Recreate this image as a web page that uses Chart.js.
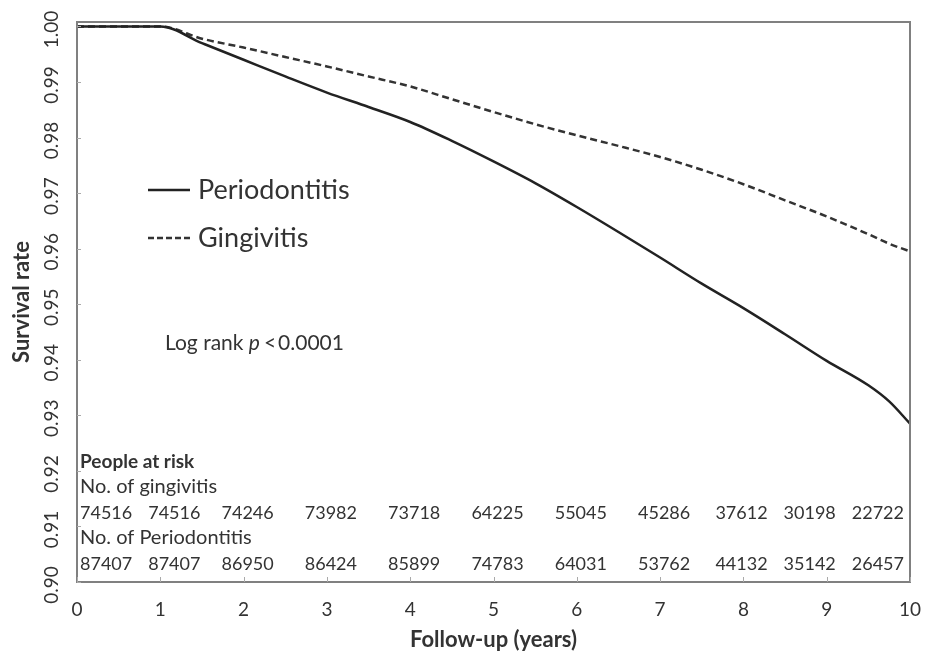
<!DOCTYPE html>
<html>
<head>
<meta charset="utf-8">
<script src="https://cdn.jsdelivr.net/npm/chart.js@4/dist/chart.umd.min.js"></script>
<style>
  body { margin: 0; background: #fff; }
  #wrap { width: 925px; height: 655px; position: relative; }
</style>
</head>
<body>
<div id="wrap"><canvas id="mychart"></canvas></div>
<script>
// survival curves
const years = [0, 1, 1.5, 2, 2.5, 3, 3.5, 4, 4.5, 5, 5.5, 6, 6.5, 7, 7.5, 8, 8.5, 9, 9.5, 9.75, 10];
const periodontitis = [1, 1, 0.9970, 0.9940, 0.9910, 0.9881, 0.9855, 0.9828, 0.9794, 0.9757, 0.9718, 0.9675, 0.9630, 0.9584, 0.9537, 0.9493, 0.9446, 0.9398, 0.9354, 0.9325, 0.9285];
const gingivitis = [1, 1, 0.9978, 0.9962, 0.9945, 0.9928, 0.9910, 0.9892, 0.9869, 0.9846, 0.9824, 0.9804, 0.9785, 0.9765, 0.9742, 0.9716, 0.9687, 0.9658, 0.9626, 0.9609, 0.9595];

// people at risk table
const riskYears = [0, 1, 2, 3, 4, 5, 6, 7, 8, 9, 10];
const atRiskGingivitis = [74516, 74516, 74246, 73982, 73718, 64225, 55045, 45286, 37612, 30198, 22722];
const atRiskPeriodontitis = [87407, 87407, 86950, 86424, 85899, 74783, 64031, 53762, 44132, 35142, 26457];

const yTickLabels = ['0.90', '0.91', '0.92', '0.93', '0.94', '0.95', '0.96', '0.97', '0.98', '0.99', '1.00'];
const xTickLabels = ['0', '1', '2', '3', '4', '5', '6', '7', '8', '9', '10'];

const textColor = '#333';
const fontFam = 'Lato, "Open Sans", sans-serif';

const toPoints = (vals) => years.map((x, i) => ({ x: x, y: vals[i] }));

const data = {
    datasets: [
        {
            label: 'Periodontitis',
            data: toPoints(periodontitis),
            borderColor: '#222',
            borderWidth: 2.5,
            pointRadius: 0,
            cubicInterpolationMode: 'monotone',
        },
        {
            label: 'Gingivitis',
            data: toPoints(gingivitis),
            borderColor: '#333',
            borderWidth: 2.5,
            borderDash: [7, 4],
            pointRadius: 0,
            cubicInterpolationMode: 'monotone',
        }
    ]
};

// draws frame, ticks, labels, legend, risk table
const decor = {
    id: 'decor',
    afterDraw(chart) {
        const ctx = chart.ctx;
        const area = chart.chartArea;
        const xs = chart.scales.x;
        const ys = chart.scales.y;
        ctx.save();

        // frame
        ctx.strokeStyle = '#808080';
        ctx.lineWidth = 2;
        ctx.setLineDash([]);
        ctx.strokeRect(area.left, area.top, area.right - area.left, area.bottom - area.top);

        // tick marks inside
        ctx.strokeStyle = '#aaa';
        ctx.lineWidth = 1;
        yTickLabels.forEach(l => {
            const y = Math.round(ys.getPixelForValue(parseFloat(l))) + 0.5;
            ctx.beginPath(); ctx.moveTo(area.left, y); ctx.lineTo(area.left + 4, y); ctx.stroke();
        });
        xTickLabels.forEach(l => {
            const x = Math.round(xs.getPixelForValue(parseFloat(l))) + 0.5;
            ctx.beginPath(); ctx.moveTo(x, area.bottom); ctx.lineTo(x, area.bottom - 5); ctx.stroke();
        });

        ctx.fillStyle = textColor;

        // y tick labels, rotated
        ctx.font = '19px ' + fontFam;
        ctx.textAlign = 'center';
        ctx.textBaseline = 'middle';
        yTickLabels.forEach(l => {
            const y = ys.getPixelForValue(parseFloat(l)) + 3;
            ctx.save();
            ctx.translate(52, y);
            ctx.rotate(-Math.PI / 2);
            ctx.fillText(l, 0, 0);
            ctx.restore();
        });

        // x tick labels
        xTickLabels.forEach(l => {
            ctx.fillText(l, xs.getPixelForValue(parseFloat(l)), 610);
        });

        // axis titles
        ctx.font = 'bold 22px ' + fontFam;
        ctx.fillText('Follow-up (years)', (area.left + area.right) / 2, 640);
        ctx.save();
        ctx.translate(22, (area.top + area.bottom) / 2);
        ctx.rotate(-Math.PI / 2);
        ctx.fillText('Survival rate', 0, 0);
        ctx.restore();

        // legend
        const legY = [190, 238];
        chart.data.datasets.forEach((ds, i) => {
            ctx.strokeStyle = ds.borderColor;
            ctx.lineWidth = 2.5;
            ctx.setLineDash(ds.borderDash ? [6, 3] : []);
            ctx.beginPath(); ctx.moveTo(148, legY[i]); ctx.lineTo(190, legY[i]); ctx.stroke();
            ctx.setLineDash([]);
            ctx.font = '27px ' + fontFam;
            ctx.textAlign = 'left';
            ctx.fillText(ds.label, 198, legY[i]);
        });

        // log rank
        ctx.font = '21px ' + fontFam;
        ctx.textAlign = 'left';
        let lx = 165;
        ctx.fillText('Log rank ', lx, 343);
        lx += ctx.measureText('Log rank ').width;
        ctx.font = 'italic 21px ' + fontFam;
        ctx.fillText('p', lx, 343);
        lx += ctx.measureText('p').width + 4;
        ctx.font = '21px ' + fontFam;
        ctx.fillText('<', lx, 343);
        lx += ctx.measureText('<').width + 2;
        ctx.fillText('0.0001', lx, 343);

        // people at risk
        ctx.font = 'bold 19px ' + fontFam;
        ctx.fillText('People at risk', area.left + 3, 462);
        ctx.font = '20px ' + fontFam;
        ctx.fillText('No. of gingivitis', area.left + 3, 487);
        ctx.fillText('No. of Periodontitis', area.left + 3, 538);

        ctx.font = '18px ' + fontFam;
        const drawRow = (vals, y) => {
            const gap = 16;
            const w = vals.map(v => ctx.measureText(String(v)).width);
            const cx = riskYears.map(t => xs.getPixelForValue(t) + 4);
            const n = vals.length;
            cx[0] = area.left + 3 + w[0] / 2;
            cx[n - 1] = area.right - 6 - w[n - 1] / 2;
            for (let i = 1; i < n - 1; i++) {
                cx[i] = Math.max(cx[i], cx[i - 1] + w[i - 1] / 2 + gap + w[i] / 2);
            }
            for (let i = n - 2; i > 0; i--) {
                cx[i] = Math.min(cx[i], cx[i + 1] - w[i + 1] / 2 - gap - w[i] / 2);
            }
            ctx.textAlign = 'center';
            vals.forEach((v, i) => ctx.fillText(String(v), cx[i], y));
        };
        drawRow(atRiskGingivitis, 513);
        drawRow(atRiskPeriodontitis, 564);

        ctx.restore();
    }
};

const config = {
    type: 'line',
    data: data,
    options: {
        responsive: true,
        maintainAspectRatio: false,
        animation: false,
        layout: {
            padding: { left: 77, top: 22, right: 15, bottom: 73 }
        },
        plugins: {
            legend: { display: false },
            tooltip: { enabled: false },
        },
        scales: {
            x: {
                type: 'linear',
                display: false,
                min: 0,
                max: 10,
            },
            y: {
                display: false,
                min: 0.9,
                max: 1.0008,
            }
        }
    },
    plugins: [decor]
};

const ctx = document.getElementById('mychart').getContext('2d');
new Chart(ctx, config);
</script>
</body>
</html>
